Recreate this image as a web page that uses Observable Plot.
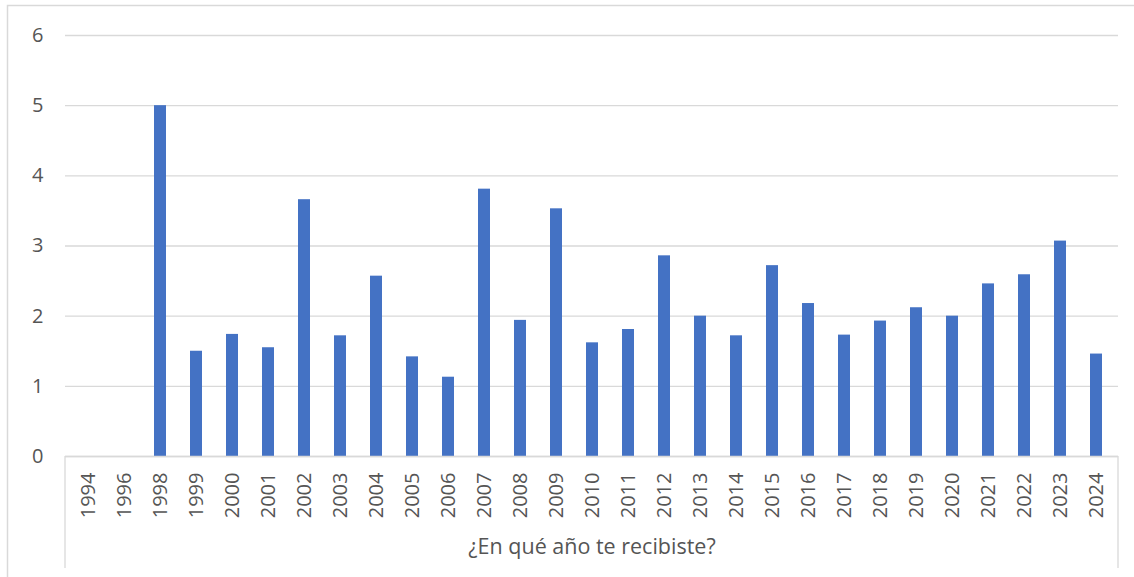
<!DOCTYPE html>
<html>
<head>
<meta charset="utf-8">
<script src="https://cdn.jsdelivr.net/npm/d3@7"></script>
<script src="https://cdn.jsdelivr.net/npm/@observablehq/plot@0.6"></script>
<style>
  html, body { margin: 0; padding: 0; background: #fff; }
  #chart { position: absolute; left: 0; top: 0; }
</style>
</head>
<body>
<div id="chart"></div>
<script>
const years = ["1994","1996","1998","1999","2000","2001","2002","2003","2004","2005","2006","2007","2008","2009","2010","2011","2012","2013","2014","2015","2016","2017","2018","2019","2020","2021","2022","2023","2024"];
const values = [null, null, 5.0, 1.5, 1.74, 1.55, 3.66, 1.72, 2.57, 1.42, 1.13, 3.81, 1.94, 3.53, 1.62, 1.81, 2.86, 2.0, 1.72, 2.72, 2.18, 1.73, 1.93, 2.12, 2.0, 2.46, 2.59, 3.07, 1.46];
const yTicks = [0, 1, 2, 3, 4, 5, 6];
const xLabel = "¿En qué año te recibiste?";

const data = years.map((y, i) => ({year: y, value: values[i]}));
const barData = data.filter(d => d.value != null);

const font = "'Open Sans', 'Noto Sans', sans-serif";
const textColor = "#555555";
const gridColor = "#d9d9d9";

const chart = Plot.plot({
  width: 1134,
  height: 577,
  marginLeft: 65,
  marginRight: 16,
  marginTop: 35,
  marginBottom: 121,
  style: {fontFamily: font, fontSize: "20px", color: textColor, background: "#fff"},
  x: {type: "band", domain: years, paddingInner: 0.68, paddingOuter: 0.34, label: null},
  y: {domain: [0, 6], ticks: yTicks, label: null},
  marks: [
    Plot.gridY(yTicks, {stroke: gridColor, strokeOpacity: 1, strokeWidth: 1.3}),
    Plot.barY(barData, {x: "year", y: "value", fill: "#4472C4"}),
    Plot.ruleY([0], {stroke: gridColor, strokeWidth: 1.3}),
    Plot.axisY(yTicks, {tickSize: 0, tickPadding: 22, tickFormat: d => String(d), fill: textColor, fontSize: 20, label: null}),
    Plot.axisX({tickRotate: -90, tickSize: 0, tickPadding: 16, fill: textColor, fontSize: 20, label: null}),
    Plot.text([xLabel], {frameAnchor: "bottom", dy: 97, fill: textColor, fontSize: 21.5})
  ]
});

document.getElementById("chart").appendChild(chart);

// category-axis box lines and outer chart border
const svg = d3.select(chart);
const xs = chart.scale("x");
const ys = chart.scale("y");
const [x0, x1] = xs.range;
const yb = ys.apply(0);
svg.insert("rect", ":first-child")
  .attr("x", 7.5).attr("y", 5.5).attr("width", 1200).attr("height", 640)
  .attr("fill", "none").attr("stroke", gridColor).attr("stroke-width", 1.5);
[x0, x1].forEach(x => {
  svg.append("line")
    .attr("x1", x).attr("x2", x).attr("y1", yb).attr("y2", 568)
    .attr("stroke", gridColor).attr("stroke-width", 1.3);
});
</script>
</body>
</html>
